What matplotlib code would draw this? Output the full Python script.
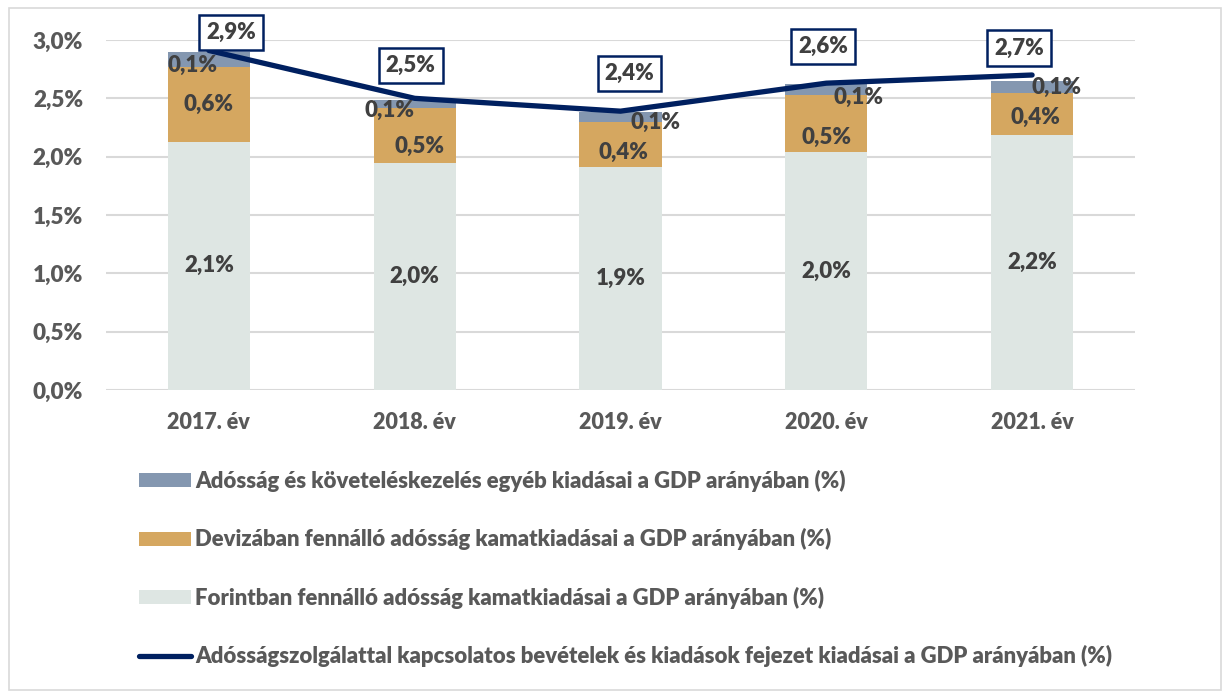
import matplotlib
matplotlib.use("Agg")
import matplotlib.pyplot as plt
from matplotlib.patches import Patch, Rectangle
from matplotlib.lines import Line2D
import numpy as np

plt.rcParams['font.family'] = ['Lato', 'DejaVu Sans']

categories = ["2017. év", "2018. év", "2019. év", "2020. év", "2021. év"]
forint = [2.13, 1.95, 1.91, 2.04, 2.19]
deviza = [0.64, 0.47, 0.39, 0.49, 0.36]
egyeb = [0.13, 0.07, 0.08, 0.09, 0.10]
total_line = [2.91, 2.50, 2.39, 2.63, 2.70]

forint_labels = ["2,1%", "2,0%", "1,9%", "2,0%", "2,2%"]
deviza_labels = ["0,6%", "0,5%", "0,4%", "0,5%", "0,4%"]
egyeb_labels = ["0,1%", "0,1%", "0,1%", "0,1%", "0,1%"]
line_labels = ["2,9%", "2,5%", "2,4%", "2,6%", "2,7%"]
yticks = [0.0, 0.5, 1.0, 1.5, 2.0, 2.5, 3.0]
ytick_labels = ["0,0%", "0,5%", "1,0%", "1,5%", "2,0%", "2,5%", "3,0%"]

legend_names = [
    "Adósság és követeléskezelés egyéb kiadásai a GDP arányában (%)",
    "Devizában fennálló adósság kamatkiadásai a GDP arányában (%)",
    "Forintban fennálló adósság kamatkiadásai a GDP arányában (%)",
    "Adósságszolgálattal kapcsolatos bevételek és kiadások fejezet kiadásai a GDP arányában (%)",
]

c_forint = "#DEE6E3"
c_deviza = "#D5A760"
c_egyeb = "#8497B0"
c_line = "#002060"
c_tick = "#595959"
c_lab = "#404040"
wt = 'heavy'

W, H = 1229, 693
fig = plt.figure(figsize=(W / 100, H / 100), dpi=100)
ax = fig.add_axes([106 / W, 1 - 390 / H, (1135 - 106) / W, (390 - 40) / H])

x = np.arange(len(categories))
bw = 0.4
f = np.array(forint)
d = np.array(deviza)
e = np.array(egyeb)
ax.bar(x, f, bw, color=c_forint, zorder=2)
ax.bar(x, d, bw, bottom=f, color=c_deviza, zorder=2)
ax.bar(x, e, bw, bottom=f + d, color=c_egyeb, zorder=2)
ax.plot(x, total_line, color=c_line, lw=3.8, zorder=4, solid_capstyle='round', clip_on=False)

ax.set_xlim(-0.5, len(categories) - 0.5)
ax.set_ylim(0, 3.0)
ax.set_yticks(yticks)
ax.set_yticklabels(ytick_labels)
ax.set_xticks(x)
ax.set_xticklabels(categories)
ax.tick_params(axis='y', length=0, labelsize=16.2, labelcolor=c_tick, pad=16.5)
ax.tick_params(axis='x', length=0, labelsize=15.5, labelcolor=c_tick, pad=16)
for lab in ax.get_xticklabels() + ax.get_yticklabels():
    lab.set_fontweight(wt)
ax.grid(axis='y', color='#D9D9D9', lw=1.5, zorder=0)
ax.set_axisbelow(True)
for s in ax.spines.values():
    s.set_visible(False)

fs = 16
# pixel offsets (style) for labels
deviza_off = [(0, 0), (5, -11), (3, -8), (0, -14), (3, -4)]
egyeb_off = [(-16, -6), (-25, -7), (35, -5), (32, -8), (24, -1)]
line_off = [(22, 18), (-4, 33), (9, 38), (-3, 37), (-13, 27)]

for i in range(len(categories)):
    ax.annotate(forint_labels[i], (x[i], f[i] / 2), xytext=(0, 0), textcoords='offset pixels',
                ha='center', va='center', fontsize=fs, fontweight=wt, color=c_lab, zorder=5)
    dx, dy = deviza_off[i]
    ax.annotate(deviza_labels[i], (x[i], f[i] + d[i] / 2), xytext=(dx, dy), textcoords='offset pixels',
                ha='center', va='center', fontsize=fs, fontweight=wt, color=c_lab, zorder=5)
    dx, dy = egyeb_off[i]
    ax.annotate(egyeb_labels[i], (x[i], f[i] + d[i] + e[i] / 2), xytext=(dx, dy), textcoords='offset pixels',
                ha='center', va='center', fontsize=fs, fontweight=wt, color=c_lab, zorder=6,
                annotation_clip=False)
    dx, dy = line_off[i]
    ax.annotate(line_labels[i], (x[i], total_line[i]), xytext=(dx, dy), textcoords='offset pixels',
                ha='center', va='center', fontsize=fs, fontweight=wt, color=c_lab, zorder=7,
                annotation_clip=False,
                bbox=dict(boxstyle='square,pad=0.32', fc='white', ec=c_line, lw=1.8))

handles = [
    Patch(facecolor=c_egyeb, edgecolor='none'),
    Patch(facecolor=c_deviza, edgecolor='none'),
    Patch(facecolor=c_forint, edgecolor='none'),
    Line2D([0], [0], color=c_line, lw=3.8, solid_capstyle='round'),
]
leg = fig.legend(handles, legend_names, loc='upper left', bbox_to_anchor=(139 / W, 1 - 470 / H),
                 frameon=False, fontsize=15.95, labelspacing=1.64, handlelength=2.33,
                 handleheight=0.62, handletextpad=0.22, borderpad=0, borderaxespad=0)
for t in leg.get_texts():
    t.set_color(c_tick)
    t.set_fontweight(wt)

fig.patches.append(Rectangle((9 / W, 3 / H), (1221 - 9) / W, (685 - 3) / H, transform=fig.transFigure,
                             fill=False, ec='#D9D9D9', lw=1.2))

fig.savefig("out.png", dpi=100)
